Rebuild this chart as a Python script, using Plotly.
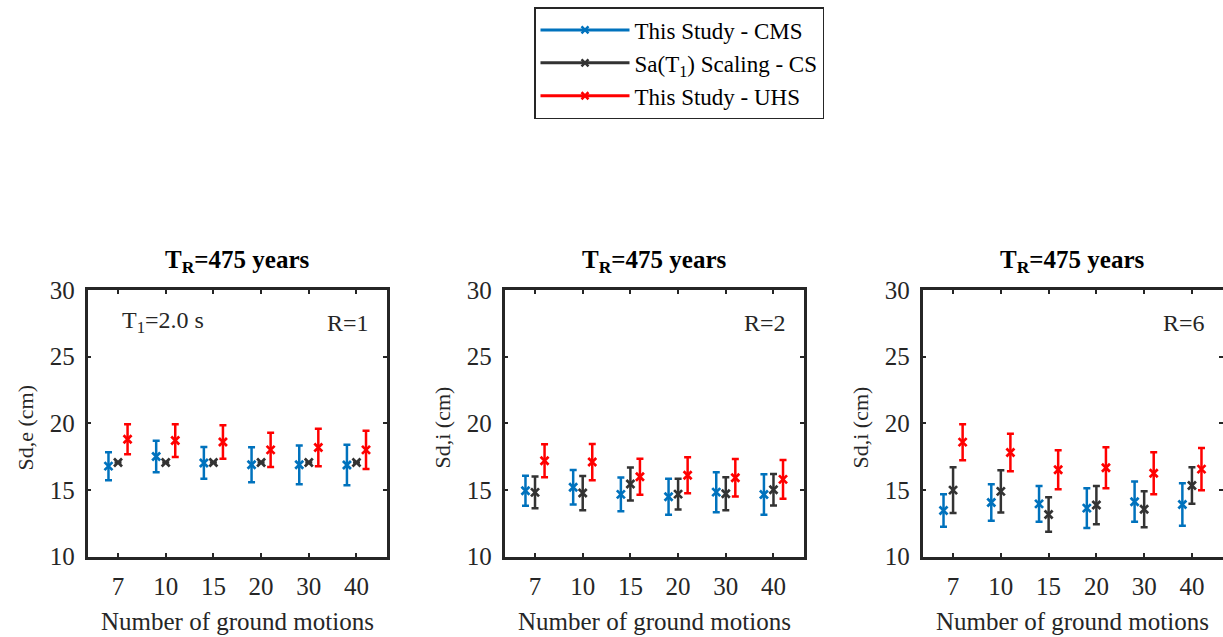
import numpy as np
import plotly.graph_objects as go

# Number of ground motions in each record set
categories = ["7", "10", "15", "20", "30", "40"]

# R = 1 (elastic displacement, Sd,e)
r1_cms_mean = [16.78, 17.50, 17.02, 16.89, 16.88, 16.87]
r1_cms_std = [1.05, 1.18, 1.19, 1.31, 1.45, 1.52]
r1_cs_mean = [17.05, 17.05, 17.05, 17.05, 17.05, 17.05]
r1_cs_std = [0.0, 0.0, 0.0, 0.0, 0.0, 0.0]
r1_uhs_mean = [18.80, 18.70, 18.59, 18.00, 18.18, 18.00]
r1_uhs_std = [1.13, 1.23, 1.26, 1.28, 1.40, 1.43]

# R = 2 (inelastic displacement, Sd,i)
r2_cms_mean = [14.93, 15.20, 14.66, 14.48, 14.83, 14.65]
r2_cms_std = [1.13, 1.29, 1.26, 1.35, 1.50, 1.52]
r2_cs_mean = [14.81, 14.76, 15.44, 14.68, 14.71, 15.01]
r2_cs_std = [1.19, 1.29, 1.24, 1.15, 1.24, 1.19]
r2_uhs_mean = [17.19, 17.09, 15.98, 16.10, 15.91, 15.79]
r2_uhs_std = [1.24, 1.36, 1.35, 1.35, 1.41, 1.46]

# R = 6 (inelastic displacement, Sd,i)
r6_cms_mean = [13.45, 14.05, 13.95, 13.63, 14.11, 13.90]
r6_cms_std = [1.22, 1.37, 1.35, 1.50, 1.51, 1.60]
r6_cs_mean = [14.98, 14.89, 13.15, 13.86, 13.55, 15.33]
r6_cs_std = [1.72, 1.59, 1.30, 1.44, 1.35, 1.37]
r6_uhs_mean = [18.58, 17.81, 16.51, 16.66, 16.25, 16.56]
r6_uhs_std = [1.35, 1.41, 1.46, 1.54, 1.58, 1.59]

series_names = ["This Study - CMS", "Sa(T<sub>1</sub>) Scaling - CS", "This Study - UHS"]
panel_titles = ["R=1", "R=2", "R=6"]
y_titles = ["Sd,e (cm)", "Sd,i (cm)", "Sd,i (cm)"]
y_ticks = [10, 15, 20, 25, 30]

panels = [
    [(r1_cms_mean, r1_cms_std), (r1_cs_mean, r1_cs_std), (r1_uhs_mean, r1_uhs_std)],
    [(r2_cms_mean, r2_cms_std), (r2_cs_mean, r2_cs_std), (r2_uhs_mean, r2_uhs_std)],
    [(r6_cms_mean, r6_cms_std), (r6_cs_mean, r6_cs_std), (r6_uhs_mean, r6_uhs_std)],
]

W, H = 1223, 637
FONT = "Liberation Serif, Times New Roman, serif"
TEXT = "#262626"
colors = ["#0072BD", "#333333", "#FF0000"]
offsets = [-0.2, 0.0, 0.2]

# panel boxes in pixels (left, right), shared top/bottom
x_boxes = [(87.5, 387.0), (504.5, 804.0), (922.5, 1222.5)]
y_top, y_bot = 290.0, 556.5


def px_x(v):
    return v / W


def px_y(v):
    return 1 - v / H


fig = go.Figure()
pos = np.arange(1, len(categories) + 1)

for p, series in enumerate(panels):
    xa = "x" if p == 0 else f"x{p + 1}"
    ya = "y" if p == 0 else f"y{p + 1}"
    for s, (mean, std) in enumerate(series):
        fig.add_trace(go.Scatter(
            x=pos + offsets[s], y=mean,
            mode="markers",
            marker=dict(symbol="x-thin", size=8, color=colors[s],
                        line=dict(color=colors[s], width=2.7)),
            error_y=dict(type="data", array=std, visible=True,
                         color=colors[s], thickness=2.5, width=3.5),
            xaxis=xa, yaxis=ya, showlegend=False, hoverinfo="x+y",
        ))

# legend entries (line + marker sample)
for s in range(3):
    fig.add_trace(go.Scatter(
        x=[None], y=[None], mode="lines+markers", name=series_names[s],
        line=dict(color=colors[s], width=3),
        marker=dict(symbol="x-thin", size=7, color=colors[s],
                    line=dict(color=colors[s], width=2.5)),
        xaxis="x", yaxis="y",
    ))

layout = dict(
    width=W, height=H,
    margin=dict(l=0, r=0, t=0, b=0, autoexpand=False),
    paper_bgcolor="white", plot_bgcolor="white",
    font=dict(family=FONT, size=24, color=TEXT),
    showlegend=True,
    legend=dict(
        x=px_x(534), y=px_y(7), xanchor="left", yanchor="top",
        bgcolor="white", bordercolor=TEXT, borderwidth=1.5,
        font=dict(family=FONT, size=23, color="black"),
        itemwidth=89, tracegroupgap=0,
        entrywidth=196, entrywidthmode="pixels",
    ),
    annotations=[],
)

for p, (xl, xr) in enumerate(x_boxes):
    key = "" if p == 0 else str(p + 1)
    layout["xaxis" + key] = dict(
        domain=[px_x(xl), px_x(xr)], range=[0.36, 6.64],
        anchor="y" + key,
        tickmode="array", tickvals=list(pos), ticktext=categories,
        ticks="inside", ticklen=4, tickwidth=2, tickcolor=TEXT,
        showline=True, linecolor=TEXT, linewidth=2.5, mirror="ticks",
        showgrid=False, zeroline=False, automargin=False,
        tickfont=dict(family=FONT, size=25, color=TEXT),
        ticklabelstandoff=6,
    )
    layout["yaxis" + key] = dict(
        domain=[px_y(y_bot), px_y(y_top)], range=[10, 30],
        anchor="x" + key,
        tickmode="array", tickvals=y_ticks,
        ticks="inside", ticklen=4, tickwidth=2, tickcolor=TEXT,
        showline=True, linecolor=TEXT, linewidth=2.5, mirror="ticks",
        showgrid=False, zeroline=False, automargin=False,
        tickfont=dict(family=FONT, size=25, color=TEXT),
        ticklabelstandoff=5,
    )
    cx = (xl + xr) / 2
    # panel title
    layout["annotations"].append(dict(
        text="<b>T<sub>R</sub>=475 years</b>", x=px_x(cx), y=px_y(261),
        xref="paper", yref="paper", xanchor="center", yanchor="middle",
        showarrow=False, font=dict(family=FONT, size=25, color="black"),
    ))
    # y-axis title
    layout["annotations"].append(dict(
        text=y_titles[p], x=px_x(xl - 63), y=px_y(428),
        xref="paper", yref="paper", xanchor="center", yanchor="middle",
        textangle=-90, showarrow=False,
        font=dict(family=FONT, size=22, color=TEXT),
    ))
    # x-axis title
    layout["annotations"].append(dict(
        text="Number of ground motions", x=px_x(cx), y=px_y(621),
        xref="paper", yref="paper", xanchor="center", yanchor="middle",
        showarrow=False, font=dict(family=FONT, size=25, color=TEXT),
    ))
    # strength reduction factor label
    layout["annotations"].append(dict(
        text=panel_titles[p], x=px_x(xr - 16), y=px_y(323),
        xref="paper", yref="paper", xanchor="right", yanchor="middle",
        showarrow=False, font=dict(family=FONT, size=24, color=TEXT),
    ))

# fundamental period note on the first panel
layout["annotations"].append(dict(
    text="T<sub>1</sub>=2.0 s", x=px_x(120), y=px_y(322),
    xref="paper", yref="paper", xanchor="left", yanchor="middle",
    showarrow=False, font=dict(family=FONT, size=24, color=TEXT),
))

fig.update_layout(**layout)
fig.write_html("out.html")
